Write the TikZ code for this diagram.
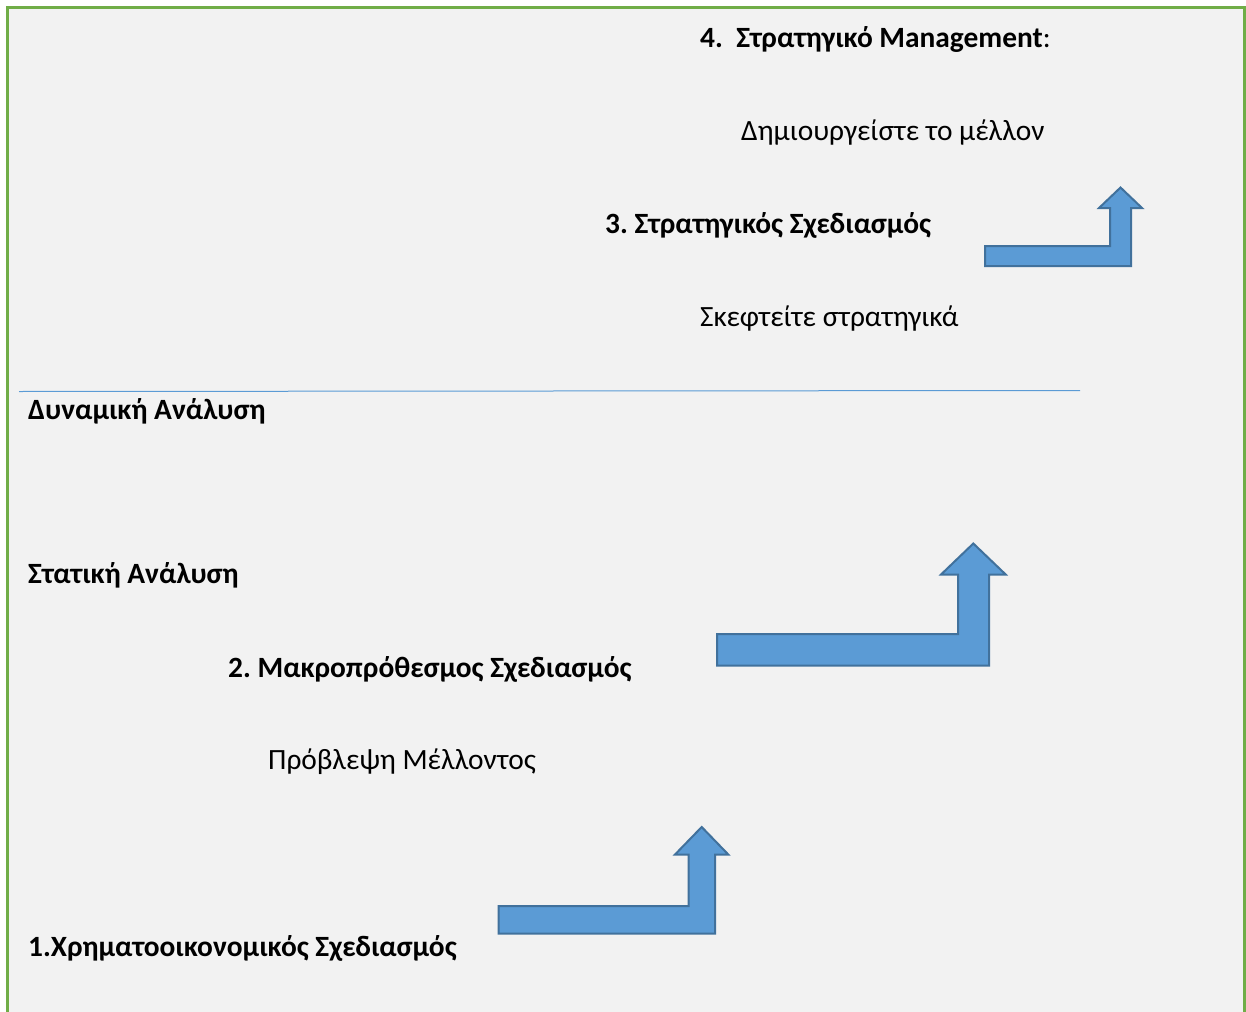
\documentclass[tikz,border=0pt]{standalone}
\usepackage{fontspec}
\setmainfont{Carlito}
\frenchspacing
\definecolor{bgc}{HTML}{F2F2F2}
\definecolor{frame}{HTML}{70AD47}
\definecolor{arrfill}{HTML}{5B9BD5}
\definecolor{arrline}{HTML}{41719C}
\begin{document}
\begin{tikzpicture}[x=1pt,y=-1pt,
  lbl/.style={anchor=base west,inner sep=0pt,font=\fontsize{29.4}{34}\selectfont},
  hdr/.style={lbl,font=\fontsize{29.4}{34}\selectfont\bfseries},
  barrow/.style={fill=arrfill,draw=arrline,line width=2pt,line join=miter}]
\useasboundingbox (0,0) rectangle (1246,1011);
\clip (0,0) rectangle (1246,1011);
\fill[white] (0,0) rectangle (1246,1011);
\filldraw[fill=bgc,draw=frame,line width=3pt] (7.5,8) rectangle (1244.5,1030);
\draw[arrfill,line width=1pt] (19,391.5) -- (1080,390.5);
% arrows
\draw[barrow] (985,246) -- (1110,246) -- (1110,208) -- (1099,208) -- (1120.5,187.5) -- (1142,208) -- (1131,208) -- (1131,266) -- (985,266) -- cycle;
\draw[barrow] (717,634) -- (958,634) -- (958,574.5) -- (941,574.5) -- (973.3,543.5) -- (1005.7,574.5) -- (989,574.5) -- (989,665.5) -- (717,665.5) -- cycle;
\draw[barrow] (498.5,906) -- (688.5,906) -- (688.5,854.5) -- (675,854.5) -- (701.7,827) -- (728.3,854.5) -- (715,854.5) -- (715,933.5) -- (498.5,933.5) -- cycle;
% texts
\node[hdr] (t4) at (700,47.5) {4.\ \ Στρατηγικό Management\mdseries:};
\node[lbl] (t4b) at (741,141) {Δημιουργείστε το μέλλον};
\node[hdr] (t3) at (605,233) {3. Στρατηγικός Σχεδιασμός};
\node[lbl] (t3b) at (700,326) {Σκεφτείτε στρατηγικά};
\node[hdr] (dyn) at (28,419) {Δυναμική Ανάλυση};
\node[hdr] (stat) at (28,583) {Στατική Ανάλυση};
\node[hdr] (t2) at (228,677) {2. Μακροπρόθεσμος Σχεδιασμός};
\node[lbl] (t2b) at (268,769) {Πρόβλεψη Μέλλοντος};
\node[hdr] (t1) at (28,956) {1.Χρηματοοικονομικός Σχεδιασμός};
\end{tikzpicture}
\end{document}
